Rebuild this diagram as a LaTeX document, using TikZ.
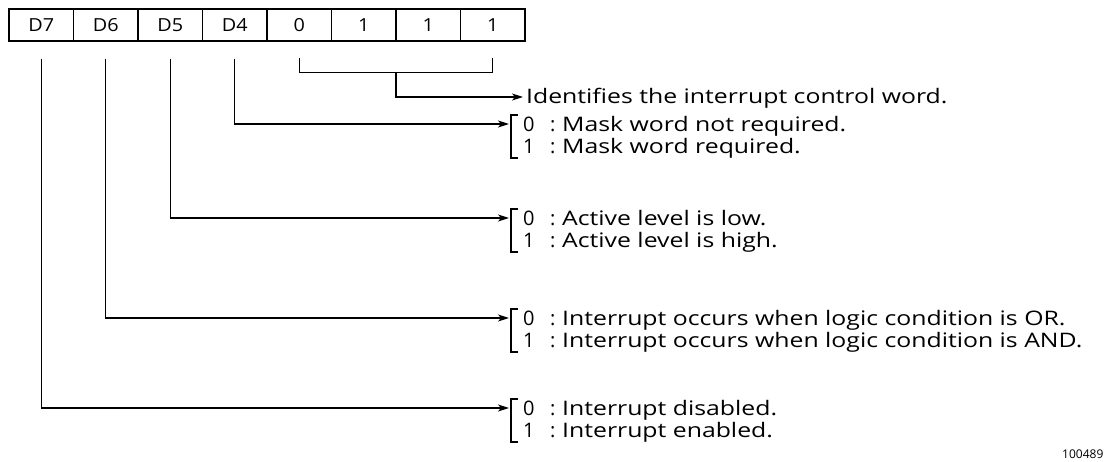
\documentclass[tikz,border=0pt]{standalone}
\usepackage{fontspec}
\usepackage{graphicx}
\setmainfont{Open Sans}
\usetikzlibrary{arrows.meta,calc}
\newcommand{\wide}[1]{\scalebox{1.24}[1]{#1}}
\newcommand{\optline}[2]{\makebox[27pt][l]{#1}\makebox[12pt][l]{:}\wide{#2}}
\begin{document}
\begin{tikzpicture}[x=1pt,y=-1pt,
  cell/.style={draw,line width=1.2pt,minimum width=64.5pt,minimum height=32pt,inner sep=0pt,font=\fontsize{18}{20}\selectfont},
  ln/.style={line width=1.2pt},
  arr/.style={line width=1.2pt,-{Stealth[length=11pt,width=7pt,inset=3pt]}},
  txt/.style={anchor=base west,inner sep=0pt,font=\fontsize{20}{22}\selectfont},
  brk/.style={line width=1.1pt}]
\useasboundingbox (0,0) rectangle (1112,462);
% register cells
\foreach \n/\t [count=\i from 0] in {b7/D7,b6/D6,b5/D5,b4/D4,b3/0,b2/1,b1/1,b0/1}
  \node[cell] (\n) at (9+64.5*\i+32.25,25) {\scalebox{1.1}[1]{\t}};
% identification bracket
\coordinate (idl) at ($(b3.south)+(0,16)$);
\coordinate (idr) at ($(b0.south)+(0,16)$);
\draw[ln] (idl) -- ++(0,15) coordinate (idlb) -- (idlb -| idr) -- (idr);
\coordinate (idm) at ($(idlb)!0.5!(idlb -| idr)$);
\node[txt] (idt) at (526,104) {\wide{Identifies the interrupt control word.}};
\draw[arr] (idm) |- ([xshift=-3pt]idt.west |- 0,97);
% groups
\foreach \b/\y/\za/\zb in {b4/124/Mask word not required./Mask word required.,
                           b5/218/Active level is low./Active level is high.,
                           b6/318/Interrupt occurs when logic condition is OR./Interrupt occurs when logic condition is AND.,
                           b7/408/Interrupt disabled./Interrupt enabled.}{
  \draw[brk] (518,\y-9) -- (511,\y-9) -- (511,\y+34) -- (518,\y+34);
  \coordinate (t\b) at (509,\y);
  \node[txt] (l0\b) at (523,\y+8) {\optline{0}{\za}};
  \node[txt] (l1\b) at (523,\y+30) {\optline{1}{\zb}};
  \draw[arr] ($(\b.south)+(0,17)$) |- (t\b);
}
\node[anchor=base west,inner sep=0pt,font=\fontsize{12}{14}\selectfont] (code) at (1062,459) {100489};
\end{tikzpicture}
\end{document}
